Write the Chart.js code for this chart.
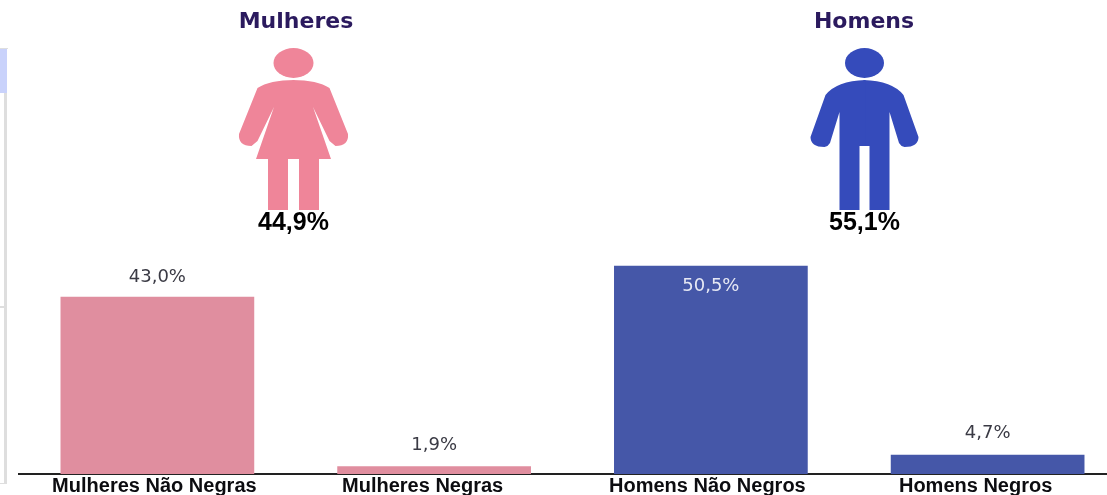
<!DOCTYPE html>
<html>
<head>
<meta charset="utf-8">
<title>Mulheres e Homens</title>
<script src="https://cdn.jsdelivr.net/npm/chart.js@4"></script>
<style>
    html, body { margin: 0; padding: 0; background: #fff; overflow: hidden; width: 1107px; height: 495px; }
    #wrap { position: relative; width: 1107px; height: 495px; overflow: hidden; filter: blur(0.45px); }
    #grafico { position: absolute; left: 0; top: 0; }
    .lateral { position: absolute; background: #dedede; }
</style>
</head>
<body>
<div id="wrap">
    <canvas id="grafico" width="1126" height="495"></canvas>
    <!-- resto da janela que aparece na esquerda da imagem -->
    <div class="lateral" style="left:0;top:48px;width:8px;height:1px"></div>
    <div class="lateral" style="left:0;top:49px;width:7px;height:44px;background:#c9d2fb"></div>
    <div class="lateral" style="left:4px;top:93px;width:3px;height:390px"></div>
    <div class="lateral" style="left:0;top:306px;width:4px;height:2px"></div>
    <div class="lateral" style="left:0;top:483px;width:7px;height:1px"></div>
</div>
<script>
const categorias = ['Mulheres Não Negras', 'Mulheres Negras', 'Homens Não Negros', 'Homens Negros'];
const valores = [43.0, 1.9, 50.5, 4.7];
const rotulos = ['43,0%', '1,9%', '50,5%', '4,7%'];
const coresBarras = ['#e08e9f', '#e08e9f', '#4557a8', '#4557a8'];

const generos = ['Mulheres', 'Homens'];
const totais = ['44,9%', '55,1%'];

function meiaMulher(ctx) {
    ctx.beginPath();
    ctx.moveTo(-1, 80);
    ctx.quadraticCurveTo(24, 80, 36, 88);
    ctx.lineTo(54.5, 134);
    ctx.quadraticCurveTo(55.5, 146, 42, 146);
    ctx.lineTo(36, 141);
    ctx.lineTo(19.5, 107);
    ctx.lineTo(37.5, 159);
    ctx.lineTo(25.5, 159);
    ctx.lineTo(25.5, 210);
    ctx.lineTo(5.5, 210);
    ctx.lineTo(5.5, 159);
    ctx.lineTo(-1, 159);
    ctx.closePath();
    ctx.fill();
}

function meioHomem(ctx) {
    ctx.beginPath();
    ctx.moveTo(-1, 80);
    ctx.quadraticCurveTo(28, 81, 39, 95);
    ctx.lineTo(54, 137);
    ctx.quadraticCurveTo(54, 147, 40, 147);
    ctx.quadraticCurveTo(36, 146, 34.5, 143);
    ctx.lineTo(25, 112);
    ctx.lineTo(25, 210);
    ctx.lineTo(5, 210);
    ctx.lineTo(5, 146);
    ctx.lineTo(-1, 146);
    ctx.closePath();
    ctx.fill();
}

function desenhaFigura(ctx, cx, cor, rx, meia) {
    ctx.save();
    ctx.fillStyle = cor;
    ctx.translate(cx, 0);
    ctx.beginPath();
    ctx.ellipse(0, 63, rx, 15, 0, 0, Math.PI * 2);
    ctx.fill();
    meia(ctx);
    ctx.scale(-1, 1);
    meia(ctx);
    ctx.restore();
}

const pluginRotulos = {
    id: 'pluginRotulos',
    afterDatasetsDraw(chart) {
        const ctx = chart.ctx;
        const barras = chart.getDatasetMeta(0).data;
        ctx.save();
        ctx.textAlign = 'center';
        ctx.textBaseline = 'middle';
        ctx.font = '18px "DejaVu Sans"';
        barras.forEach((barra, i) => {
            // o rotulo da barra maior fica dentro dela
            const dentro = valores[i] > 50;
            ctx.fillStyle = dentro ? '#e6e8f4' : '#3a3a44';
            let y = barra.y - 19;
            if (dentro) y = barra.y + 20;
            if (valores[i] < 10) y = barra.y - 21;
            ctx.fillText(rotulos[i], barra.x, y);
        });

        // as categorias nao ficam bem centradas nas barras no original
        const ajuste = [-3, -11.5, -3.5, -12];
        ctx.fillStyle = '#0c0c10';
        ctx.font = 'bold 20px "Liberation Sans"';
        categorias.forEach((c, i) => {
            ctx.fillText(c, chart.scales.x.getPixelForTick(i) + ajuste[i], 486);
        });

        desenhaFigura(ctx, 293.5, '#ef8599', 20, meiaMulher);
        desenhaFigura(ctx, 864.5, '#354bbb', 19.5, meioHomem);

        const centros = [296, 864];
        generos.forEach((g, i) => {
            ctx.fillStyle = '#2b1a5e';
            ctx.font = 'bold 22px "DejaVu Sans"';
            ctx.fillText(g, centros[i], 22);
            ctx.fillStyle = '#000';
            ctx.font = 'bold 25px "Liberation Sans"';
            ctx.fillText(totais[i], i == 0 ? 293.5 : 864.5, 223);
        });
        ctx.restore();
    }
};

new Chart(document.getElementById('grafico'), {
    type: 'bar',
    data: {
        labels: categorias,
        datasets: [{
            data: valores,
            backgroundColor: coresBarras,
            barPercentage: 0.7,
            categoryPercentage: 1
        }]
    },
    options: {
        responsive: false,
        animation: false,
        layout: {
            padding: { left: 19, right: 0, top: 0, bottom: 21 }
        },
        plugins: {
            legend: { display: false },
            tooltip: { enabled: false }
        },
        scales: {
            x: {
                grid: { display: false, drawTicks: false },
                border: { color: '#222', width: 2 },
                ticks: { display: false }
            },
            y: {
                display: false,
                min: 0,
                max: 115
            }
        }
    },
    plugins: [pluginRotulos]
});
</script>
</body>
</html>
